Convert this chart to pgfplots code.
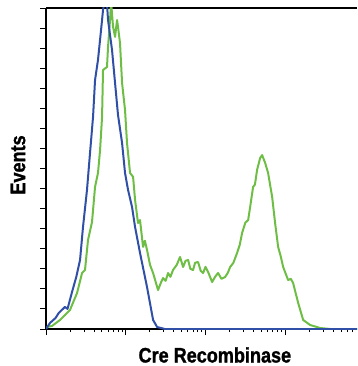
\documentclass[border=0pt]{standalone}
\usepackage{pgfplots}
\usepackage{pgfplotstable}
\usepackage{fontspec}
\pgfplotsset{compat=1.18}
\setmainfont{Liberation Sans}
\newfontfamily\labfont[FakeStretch=0.86,FakeBold=1.2]{Liberation Sans}
\definecolor{cblue}{RGB}{48,80,168}
\definecolor{cgreen}{RGB}{110,190,70}

\pgfplotstableread{
lx y
0.000 0.00
0.050 0.30
0.120 0.55
0.160 0.80
0.238 1.10
0.270 1.00
0.326 1.84
0.380 2.60
0.427 3.44
0.464 5.08
0.514 6.93
0.552 8.77
0.590 10.57
0.615 12.41
0.652 13.41
0.703 15.40
0.715 15.90
0.740 16.40
0.765 16.20
0.778 15.40
0.828 13.91
0.866 12.26
0.903 10.67
0.954 9.27
0.991 7.78
1.029 6.93
1.079 6.08
1.117 5.08
1.179 3.79
1.267 2.09
1.343 0.45
1.393 0.10
1.490 0.00
3.900 0.00
}\bluedata

\pgfplotstableread{
lx y
0.010 0.10
0.075 0.15
0.176 0.45
0.240 0.70
0.301 0.95
0.389 1.79
0.452 2.79
0.489 2.94
0.527 4.44
0.577 5.33
0.615 7.08
0.652 7.78
0.678 8.92
0.703 10.57
0.715 12.91
0.765 13.06
0.778 14.06
0.803 15.40
0.816 16.30
0.841 15.06
0.866 14.56
0.891 15.40
0.903 15.06
0.928 14.26
0.954 12.26
0.991 10.92
1.016 9.27
1.054 7.78
1.092 7.58
1.117 6.43
1.154 5.28
1.179 5.43
1.217 4.09
1.240 4.40
1.267 3.94
1.305 3.19
1.343 2.79
1.405 1.94
1.440 2.30
1.468 2.54
1.500 2.40
1.531 2.79
1.560 2.60
1.593 2.94
1.640 3.20
1.681 3.59
1.719 3.09
1.750 3.40
1.782 3.44
1.810 3.00
1.844 2.94
1.870 3.30
1.907 3.34
1.940 2.90
1.970 2.79
2.000 3.10
2.033 2.84
2.083 2.34
2.120 2.60
2.158 2.79
2.200 2.50
2.246 2.59
2.280 2.80
2.309 3.09
2.350 3.30
2.396 3.79
2.430 4.20
2.459 4.79
2.500 5.30
2.535 5.43
2.560 6.08
2.597 7.08
2.620 7.20
2.647 7.93
2.685 8.52
2.710 8.67
2.748 8.28
2.785 7.78
2.836 6.58
2.873 5.28
2.911 4.09
2.945 3.60
2.974 3.09
3.036 2.44
3.070 2.50
3.099 2.29
3.162 1.30
3.225 0.45
3.312 0.20
3.438 0.05
3.563 0.00
3.900 0.00
}\greendata

\begin{document}
\begin{tikzpicture}
\useasboundingbox (-46pt,-37pt) rectangle (311pt,329pt);
\begin{axis}[
  scale only axis,
  width=311pt, height=321pt,
  xmode=log,
  xmin=1, xmax=7943,
  ymin=0, ymax=16,
  axis x line*=box,
  axis y line*=left,
  axis line style={line width=1.4pt, black},
  xtick pos=bottom,
  ytick pos=left,
  tick align=outside,
  ytick={0,1,...,16},
  xticklabels={}, yticklabels={},
  major tick length=6pt,
  minor tick length=3pt,
  every tick/.style={black, line width=0.9pt},
  clip=true,
  xlabel={\labfont\bfseries Cre Recombinase},
  ylabel={\labfont\bfseries Events},
  every axis x label/.style={at={(axis description cs:0.543,-0.081)}, anchor=center, font=\fontsize{21}{24}\selectfont},
  every axis y label/.style={at={(axis description cs:-0.090,0.511)}, anchor=center, rotate=90, font=\fontsize{21}{24}\selectfont},
]
\addplot[cgreen, line width=2pt, line join=round] table[x expr={10^(\thisrow{lx})}, y=y] {\greendata};
\addplot[cblue, line width=2pt, line join=round] table[x expr={10^(\thisrow{lx})}, y=y] {\bluedata};
\end{axis}
\end{tikzpicture}
\end{document}
